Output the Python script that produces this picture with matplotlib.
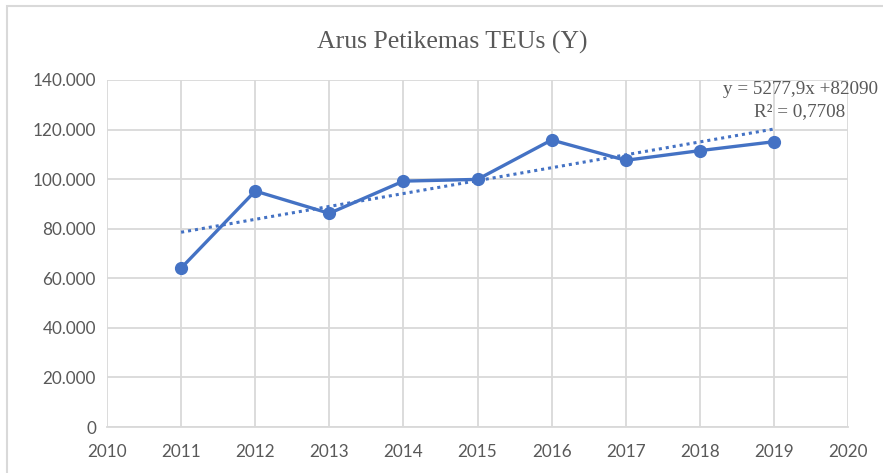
import matplotlib.pyplot as plt
import numpy as np
from matplotlib.patches import Rectangle

# data
years = [2011, 2012, 2013, 2014, 2015, 2016, 2017, 2018, 2019]
teus = [64100, 95200, 86200, 99200, 99900, 115800, 107600, 111500, 115100]
y_ticks = [0, 20000, 40000, 60000, 80000, 100000, 120000, 140000]
x_ticks = [2010, 2011, 2012, 2013, 2014, 2015, 2016, 2017, 2018, 2019, 2020]
title = 'Arus Petikemas TEUs (Y)'
eq_text = 'y = 5277,9x +82090'
r2_text = 'R² = 0,7708'

blue = '#4472C4'
grid_col = '#D9D9D9'
label_col = '#595959'

fig = plt.figure(figsize=(8.83, 4.73), dpi=100)
ax = fig.add_axes([107 / 883, 1 - 427 / 473, (848 - 107) / 883, (427 - 80) / 473])

# chart border (extends beyond the right/bottom edge like in the screenshot)
fig.patches.append(Rectangle((7 / 883, -0.1), 1.2, 1 - 6 / 473 + 0.1,
                             transform=fig.transFigure, fill=False,
                             edgecolor=grid_col, linewidth=1.5))

# trendline (linear fit over the point index 1..n)
idx = np.arange(1, len(years) + 1)
k, b = np.polyfit(idx, teus, 1)
ax.plot(years, k * idx + b, linestyle=(0, (1, 1.3)), color=blue, linewidth=2.2, zorder=3)

ax.plot(years, teus, color=blue, linewidth=2.4, marker='o', markersize=8.5, zorder=4)

ax.set_xlim(2010, 2020)
ax.set_ylim(0, 140000)
ax.set_xticks(x_ticks)
ax.set_yticks(y_ticks)
ax.set_yticklabels(['0' if v == 0 else f'{v // 1000}.000' for v in y_ticks])
ax.grid(True, color=grid_col, linewidth=1.3)
ax.set_axisbelow(True)
for side in ['top', 'right', 'left']:
    ax.spines[side].set_visible(False)
ax.spines['bottom'].set_color(grid_col)
ax.spines['bottom'].set_linewidth(1.3)
ax.tick_params(length=0, labelcolor=label_col, labelsize=12.3)
ax.tick_params(axis='y', pad=8)
ax.tick_params(axis='x', pad=12)
for lbl in ax.get_xticklabels() + ax.get_yticklabels():
    lbl.set_fontfamily('Lato')

fig.text(452 / 883, 1 - 42 / 473, title, ha='center', va='center',
         fontsize=18.5, color=label_col, family='Liberation Serif')
fig.text(878 / 883, 1 - 89 / 473, eq_text, ha='right', va='center',
         fontsize=13.8, color=label_col, family='Liberation Serif')
fig.text(845 / 883, 1 - 112 / 473, r2_text, ha='right', va='center',
         fontsize=13.8, color=label_col, family='Liberation Serif')

fig.savefig('out.png', dpi=100)
